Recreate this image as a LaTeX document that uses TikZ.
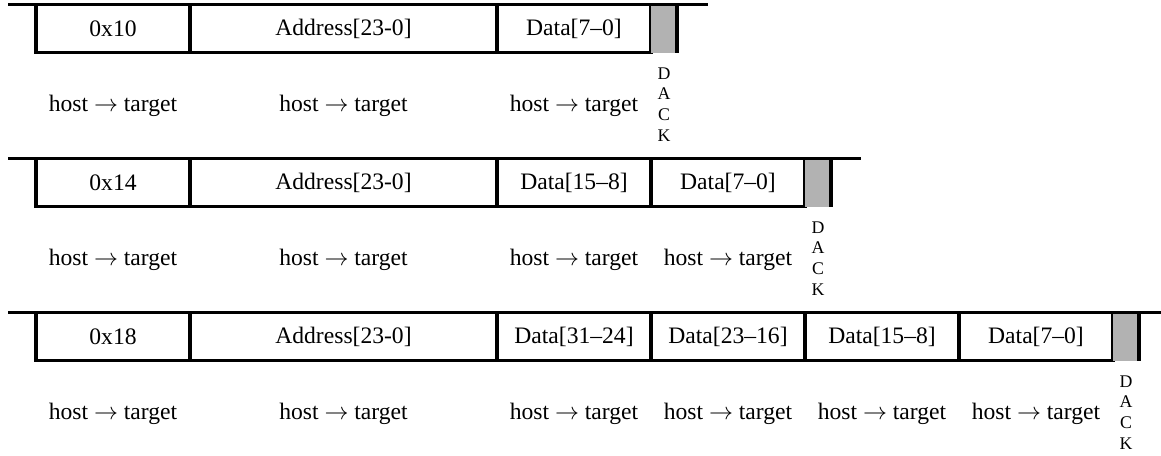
\documentclass[tikz,border=0pt]{standalone}
\usepackage{fontspec}
\setmainfont{Liberation Serif}
\begin{document}
\begin{tikzpicture}[x=0.5pt,y=-0.5pt,
  rule/.style={line width=1.6pt},
  cell/.style={draw, line width=1.6pt, minimum height=24pt, inner sep=0pt, outer sep=0pt,
    anchor=north west, font=\fontsize{11.8}{14}\selectfont},
  narrow/.style={minimum width=77pt},
  wide/.style={minimum width=153.5pt},
  dackbox/.style={fill=gray!60, draw=none, minimum width=13pt, minimum height=24pt,
    inner sep=0pt, outer sep=0pt, anchor=north west},
  host/.style={font=\fontsize{11.8}{14}\selectfont, inner sep=0pt},
  dacktext/.style={font=\fontsize{8.9}{10.35}\selectfont, align=center, inner sep=0pt}]
\useasboundingbox (0,0) rectangle (1161,455);

% ---------- row 1 ----------
\coordinate (s1) at (8,4.5);
\coordinate (e1) at (708,4.5);
\node[cell,narrow] (a1) at (36,4.5) {0x10};
\node[cell,wide]   (b1) at (a1.north east) {Address[23-0]};
\node[cell,narrow] (c1) at (b1.north east) {Data[7–0]};
\node[dackbox]     (g1) at (c1.north east) {};
\draw[rule] (g1.north east) -- (g1.south east);
\draw[rule] (s1) -- (e1);
\node[host] (ha1) at ([yshift=-38.5pt]a1.center) {host $\rightarrow$ target};
\node[host] (hb1) at ([yshift=-38.5pt]b1.center) {host $\rightarrow$ target};
\node[host] (hc1) at ([yshift=-38.5pt]c1.center) {host $\rightarrow$ target};
\node[dacktext] (d1) at ([yshift=-38pt]g1.center) {D\\A\\C\\K};

% ---------- row 2 ----------
\coordinate (s2) at (8,158.5);
\coordinate (e2) at (861,158.5);
\node[cell,narrow] (a2) at (36,158.5) {0x14};
\node[cell,wide]   (b2) at (a2.north east) {Address[23-0]};
\node[cell,narrow] (c2) at (b2.north east) {Data[15–8]};
\node[cell,narrow] (f2) at (c2.north east) {Data[7–0]};
\node[dackbox]     (g2) at (f2.north east) {};
\draw[rule] (g2.north east) -- (g2.south east);
\draw[rule] (s2) -- (e2);
\node[host] (ha2) at ([yshift=-38.5pt]a2.center) {host $\rightarrow$ target};
\node[host] (hb2) at ([yshift=-38.5pt]b2.center) {host $\rightarrow$ target};
\node[host] (hc2) at ([yshift=-38.5pt]c2.center) {host $\rightarrow$ target};
\node[host] (hf2) at ([yshift=-38.5pt]f2.center) {host $\rightarrow$ target};
\node[dacktext] (d2) at ([yshift=-38pt]g2.center) {D\\A\\C\\K};

% ---------- row 3 ----------
\coordinate (s3) at (8,312.5);
\coordinate (e3) at (1162,312.5);
\node[cell,narrow] (a3) at (36,312.5) {0x18};
\node[cell,wide]   (b3) at (a3.north east) {Address[23-0]};
\node[cell,narrow] (c3) at (b3.north east) {Data[31–24]};
\node[cell,narrow] (f3) at (c3.north east) {Data[23–16]};
\node[cell,narrow] (k3) at (f3.north east) {Data[15–8]};
\node[cell,narrow] (m3) at (k3.north east) {Data[7–0]};
\node[dackbox]     (g3) at (m3.north east) {};
\draw[rule] (g3.north east) -- (g3.south east);
\draw[rule] (s3) -- (e3);
\node[host] (ha3) at ([yshift=-38.5pt]a3.center) {host $\rightarrow$ target};
\node[host] (hb3) at ([yshift=-38.5pt]b3.center) {host $\rightarrow$ target};
\node[host] (hc3) at ([yshift=-38.5pt]c3.center) {host $\rightarrow$ target};
\node[host] (hf3) at ([yshift=-38.5pt]f3.center) {host $\rightarrow$ target};
\node[host] (hk3) at ([yshift=-38.5pt]k3.center) {host $\rightarrow$ target};
\node[host] (hm3) at ([yshift=-38.5pt]m3.center) {host $\rightarrow$ target};
\node[dacktext] (d3) at ([yshift=-38pt]g3.center) {D\\A\\C\\K};
\end{tikzpicture}
\end{document}
